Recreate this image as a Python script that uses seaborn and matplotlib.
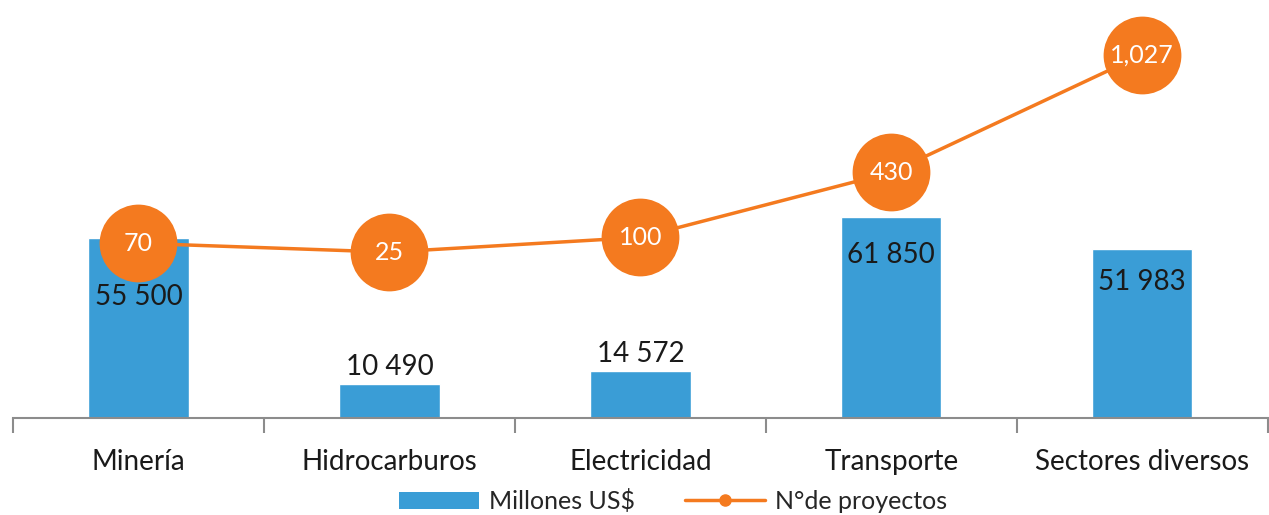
import numpy as np
import pandas as pd
import matplotlib
matplotlib.use("Agg")
import matplotlib.pyplot as plt
from matplotlib.patches import Patch
from matplotlib.lines import Line2D
import seaborn as sns

categorias = ["Minería", "Hidrocarburos", "Electricidad", "Transporte", "Sectores diversos"]
millones = [55500, 10490, 14572, 61850, 51983]
proyectos = [70, 25, 100, 430, 1027]
etiquetas_millones = ["55 500", "10 490", "14 572", "61 850", "51 983"]
etiquetas_proyectos = ["70", "25", "100", "430", "1,027"]

AZUL = "#3A9DD6"
NARANJA = "#F47A1F"

sns.set_style("white")
plt.rcParams["font.family"] = ["Lato", "DejaVu Sans"]

df = pd.DataFrame({"sector": categorias, "millones": millones, "proyectos": proyectos})

fig = plt.figure(figsize=(12.69, 5.15), dpi=100)
ax = fig.add_axes([0.0102, 0.1883, 0.9888, 0.7728])

sns.barplot(data=df, x="sector", y="millones", color=AZUL, width=0.4, saturation=1, ax=ax)
ax.set_xlim(-0.5, 4.5)
ax.set_ylim(0, 122500)
ax.set_xlabel("")
ax.set_ylabel("")
ax.set_yticks([])
for s in ["top", "right", "left"]:
    ax.spines[s].set_visible(False)
ax.spines["bottom"].set_color("#8c8c8c")
ax.spines["bottom"].set_linewidth(1.5)
ax.set_xticks(np.arange(len(categorias)))
ax.set_xticklabels(categorias, fontsize=20, color="#1a1a1a")
ax.tick_params(axis="x", which="major", bottom=False, length=0, pad=22)
# separadores entre categorias
ax.set_xticks(np.arange(len(categorias) + 1) - 0.5, minor=True)
ax.tick_params(axis="x", which="minor", bottom=True, length=11, width=1.5,
               color="#8c8c8c", direction="out")

# etiquetas de barras: offsets en puntos
offsets = [-43, 12, 12, -27, -24]
for i, (v, lab) in enumerate(zip(millones, etiquetas_millones)):
    ax.annotate(lab, (i, v), xytext=(0, offsets[i]), textcoords="offset points",
                ha="center", va="center", fontsize=20, color="#1a1a1a")

ax2 = ax.twinx()
x = np.arange(len(categorias))
sns.lineplot(x=x, y=proyectos, ax=ax2, color=NARANJA, linewidth=2.5, marker="o",
             markersize=56, markeredgewidth=0, zorder=3, clip_on=False)
ax2.set_ylim(-817, 1203)
ax2.set_yticks([])
for s in ["top", "right", "left", "bottom"]:
    ax2.spines[s].set_visible(False)
for i, (v, lab) in enumerate(zip(proyectos, etiquetas_proyectos)):
    ax2.text(i, v, lab, ha="center", va="center", fontsize=18, color="white", zorder=4)

handles = [Patch(facecolor=AZUL, edgecolor="none"),
           Line2D([0], [0], color=NARANJA, linewidth=2.5, marker="o", markersize=8)]
fig.legend(handles, ["Millones US$", "N°de proyectos"], loc="lower center",
           bbox_to_anchor=(0.53, -0.04), ncol=2, frameon=False, fontsize=18,
           handlelength=3.2, columnspacing=2.0, handletextpad=0.4)

fig.savefig("out.png", dpi=100)
